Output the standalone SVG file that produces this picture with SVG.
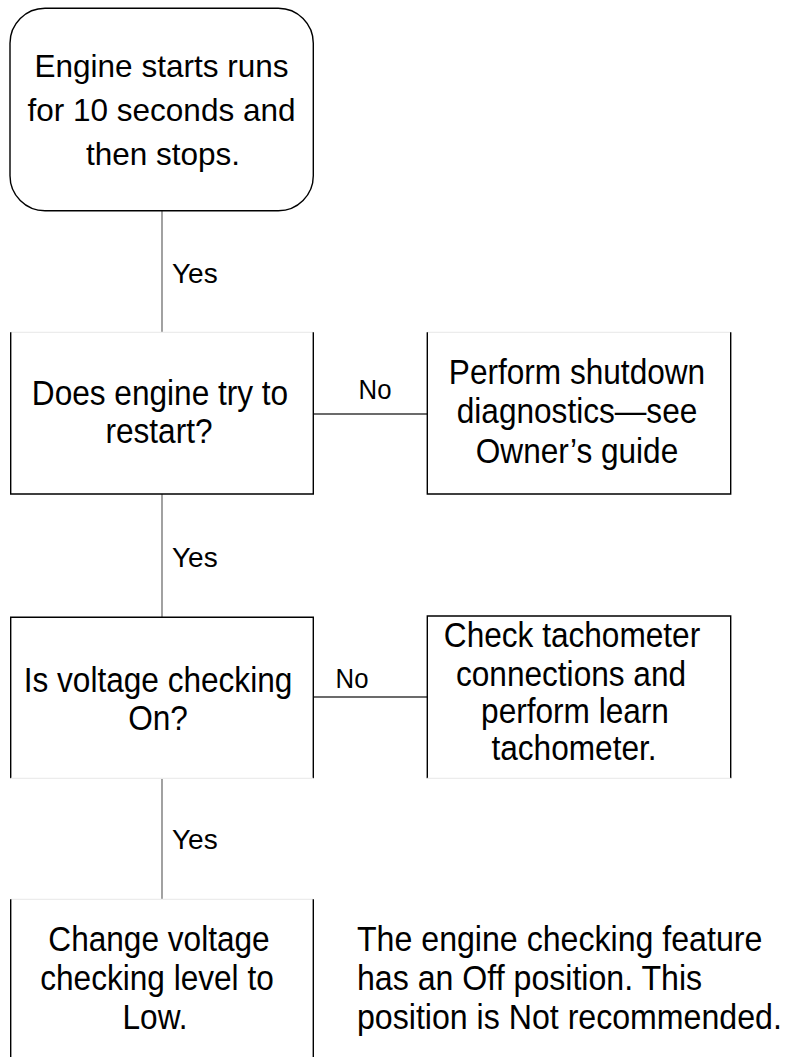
<svg xmlns="http://www.w3.org/2000/svg" width="786" height="1057" viewBox="0 0 786 1057">
<style>
.box{fill:none;stroke:#000;stroke-width:1.4}
.edge{fill:none;stroke:#000;stroke-width:1.4}
.faint{fill:none;stroke:#ececec;stroke-width:1.2}
.vconn{fill:none;stroke:#7a7a7a;stroke-width:1.4}
.hconn{fill:none;stroke:#3a3a3a;stroke-width:1.6}
.t1{font-family:"Liberation Sans",Arial,sans-serif;font-size:31.5px;fill:#000;text-anchor:middle}
.tc{font-family:"Liberation Sans",Arial,sans-serif;font-size:35.5px;fill:#000;text-anchor:middle}
.tn{font-family:"Liberation Sans",Arial,sans-serif;font-size:35.5px;fill:#000;text-anchor:start}
.lbl{font-family:"Liberation Sans",Arial,sans-serif;font-size:28px;fill:#000}
</style>
<rect width="786" height="1057" fill="#fff"/>
<g id="connectors">
<line class="vconn" x1="162" y1="211" x2="162" y2="332"/>
<line class="vconn" x1="162" y1="494" x2="162" y2="617"/>
<line class="vconn" x1="162" y1="778" x2="162" y2="899"/>
<line class="hconn" x1="313" y1="414" x2="427" y2="414"/>
<line class="hconn" x1="313" y1="697" x2="427" y2="697"/>
<text class="lbl" x="172" y="283">Yes</text>
<text class="lbl" x="172" y="567">Yes</text>
<text class="lbl" x="172" y="849">Yes</text>
<text class="lbl" text-anchor="middle" transform="translate(375,399) scale(0.92,1)">No</text>
<text class="lbl" text-anchor="middle" transform="translate(352,688) scale(0.92,1)">No</text>
</g>
<g id="start">
<rect class="box" x="10" y="8.3" width="303.3" height="202.5" rx="35" ry="35"/>
<text class="t1" x="161.5" y="77">Engine starts runs</text>
<text class="t1" x="161.5" y="121">for 10 seconds and</text>
<text class="t1" x="163" y="165">then stops.</text>
</g>
<g id="restart">
<line class="faint" x1="10.7" y1="332.3" x2="313.3" y2="332.3"/>
<path class="edge" d="M10.7,332.3 V494 H313.3 V332.3"/>
<text class="tc" transform="translate(160,405) scale(0.89,1)">Does engine try to</text>
<text class="tc" transform="translate(159,443) scale(0.89,1)">restart?</text>
</g>
<g id="shutdown">
<line class="faint" x1="427.3" y1="332.3" x2="730.7" y2="332.3"/>
<path class="edge" d="M427.3,332.3 V494 H730.7 V332.3"/>
<text class="tc" transform="translate(577,384) scale(0.89,1)">Perform shutdown</text>
<text class="tc" transform="translate(577,423) scale(0.89,1)">diagnostics—see</text>
<text class="tc" transform="translate(577,463) scale(0.89,1)">Owner’s guide</text>
</g>
<g id="voltage">
<path class="edge" d="M10.7,778.3 V617.3 H313.3 V778.3"/>
<line class="faint" x1="10.7" y1="778.3" x2="313.3" y2="778.3"/>
<text class="tc" transform="translate(158,692) scale(0.89,1)">Is voltage checking</text>
<text class="tc" transform="translate(158,730) scale(0.89,1)">On?</text>
</g>
<g id="tachometer">
<path class="edge" d="M427.3,778.3 V616 H730.7 V778.3"/>
<line class="faint" x1="427.3" y1="778.3" x2="730.7" y2="778.3"/>
<text class="tc" transform="translate(572,647) scale(0.89,1)">Check tachometer</text>
<text class="tc" transform="translate(571,686) scale(0.89,1)">connections and</text>
<text class="tc" transform="translate(575,723) scale(0.89,1)">perform learn</text>
<text class="tc" transform="translate(574,760) scale(0.89,1)">tachometer.</text>
</g>
<g id="lowlevel">
<line class="faint" x1="10.7" y1="899.3" x2="313.3" y2="899.3"/>
<line class="edge" x1="10.7" y1="899.3" x2="10.7" y2="1057"/>
<line class="edge" x1="313.3" y1="899.3" x2="313.3" y2="1057"/>
<text class="tc" transform="translate(159,951) scale(0.89,1)">Change voltage</text>
<text class="tc" transform="translate(157,990) scale(0.89,1)">checking level to</text>
<text class="tc" transform="translate(155,1029) scale(0.89,1)">Low.</text>
</g>
<g id="note">
<text class="tn" transform="translate(357,951) scale(0.905,1)">The engine checking feature</text>
<text class="tn" transform="translate(357,990) scale(0.905,1)">has an Off position. This</text>
<text class="tn" transform="translate(357,1029) scale(0.905,1)">position is Not recommended.</text>
</g>
</svg>
